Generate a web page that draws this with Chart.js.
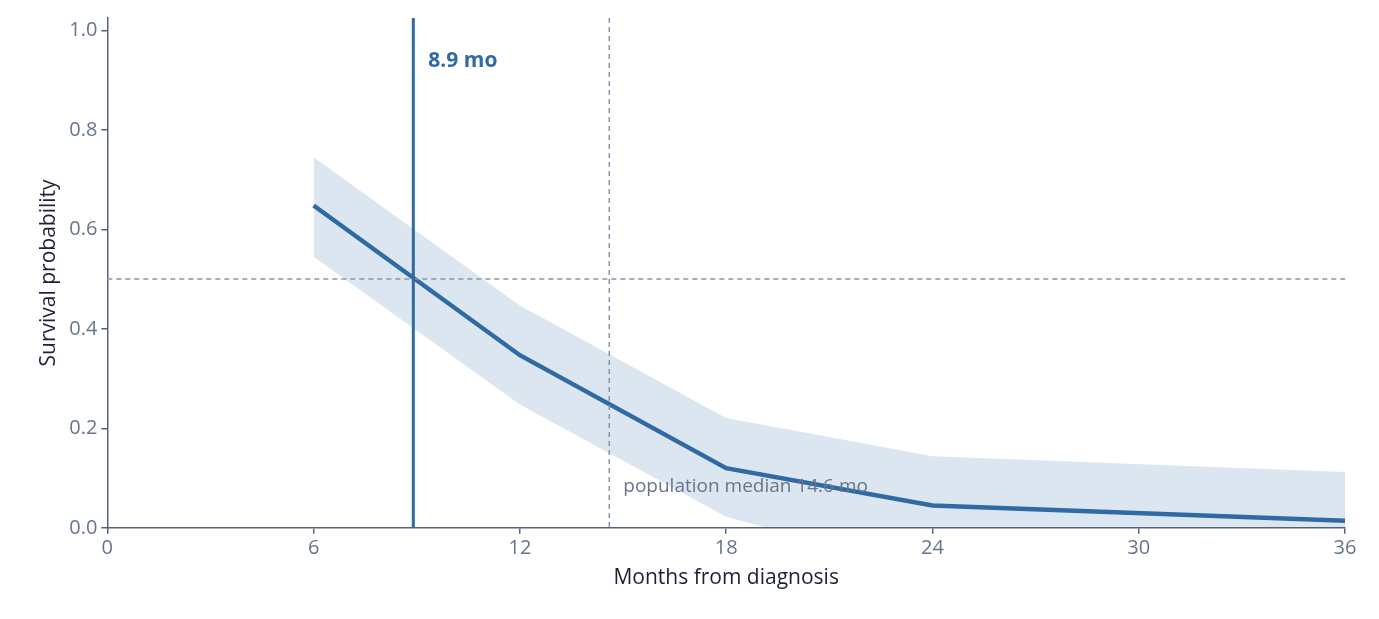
<!DOCTYPE html>
<html><head><meta charset="utf-8">
<script src="https://cdn.jsdelivr.net/npm/chart.js@4"></script>
<style>html,body{margin:0;background:#fff}#wrap{width:1379px;height:619px}</style>
</head><body><div id="wrap"><canvas id="c"></canvas></div>
<script>
const months = [6, 12, 18, 24, 36];
const survival = [0.648, 0.347, 0.12, 0.045, 0.014];
const upperCI = [0.745, 0.447, 0.221, 0.144, 0.112];
const lowerCI = [0.545, 0.248, 0.022, -0.09, -0.1];
const xTicks = [0, 6, 12, 18, 24, 30, 36];
const medianPatient = 8.9;
const medianPopulation = 14.6;

const pts = arr => months.map((m, i) => ({x: m, y: arr[i]}));

const refLines = {
  id: 'refLines',
  afterDatasetsDraw(chart) {
    const {ctx, chartArea: a, scales: {x, y}} = chart;
    ctx.save();
    ctx.setLineDash([5, 4]); ctx.lineWidth = 1.5; ctx.strokeStyle = '#8796ad';
    ctx.beginPath(); ctx.moveTo(a.left, y.getPixelForValue(0.5)); ctx.lineTo(a.right, y.getPixelForValue(0.5)); ctx.stroke();
    const px = x.getPixelForValue(medianPopulation);
    ctx.beginPath(); ctx.moveTo(px, a.top); ctx.lineTo(px, a.bottom); ctx.stroke();
    ctx.setLineDash([]); ctx.lineWidth = 3; ctx.strokeStyle = '#2f6aa5';
    const sx = x.getPixelForValue(medianPatient);
    ctx.beginPath(); ctx.moveTo(sx, a.top); ctx.lineTo(sx, a.bottom); ctx.stroke();
    ctx.fillStyle = '#2f6aa5'; ctx.font = 'bold 21px "Open Sans"'; ctx.textBaseline = 'middle';
    ctx.fillText(medianPatient + ' mo', sx + 15, 61);
    ctx.fillStyle = '#66758c'; ctx.font = '19px "Open Sans"';
    ctx.fillText('population median ' + medianPopulation + ' mo', px + 14, 487);
    ctx.restore();
  }
};

const tickGrid = { display: true, drawOnChartArea: false, drawTicks: true, tickLength: 6, color: '#56627a', lineWidth: 1.5 };

new Chart(document.getElementById('c'), {
  type: 'line',
  data: { datasets: [
    { data: pts(upperCI), borderWidth: 0, pointRadius: 0, fill: '+1', backgroundColor: 'rgba(47,106,165,0.17)' },
    { data: pts(lowerCI), borderWidth: 0, pointRadius: 0, fill: false },
    { data: pts(survival), borderColor: '#2f6aa5', borderWidth: 4.5, pointRadius: 0, fill: false }
  ]},
  options: {
    responsive: true, maintainAspectRatio: false, animation: false,
    layout: { padding: { top: 18, right: 34, left: 32, bottom: 24 } },
    plugins: { legend: { display: false }, tooltip: { enabled: false } },
    scales: {
      x: { type: 'linear', min: 0, max: 36,
        afterBuildTicks: s => { s.ticks = xTicks.map(v => ({value: v})); },
        grid: tickGrid, border: { color: '#56627a', width: 1.5 },
        ticks: { color: '#66758c', font: { size: 20, family: 'Open Sans' }, padding: 2 },
        title: { display: true, text: 'Months from diagnosis', color: '#1a2233', font: { size: 21, family: 'Open Sans' } } },
      y: { min: 0, max: 1.025,
        afterBuildTicks: s => { s.ticks = [0, 0.2, 0.4, 0.6, 0.8, 1.0].map(v => ({value: v})); },
        grid: tickGrid, border: { color: '#56627a', width: 1.5 },
        ticks: { color: '#66758c', font: { size: 20, family: 'Open Sans' }, padding: 4, callback: v => v.toFixed(1) },
        title: { display: true, text: 'Survival probability', color: '#1a2233', font: { size: 21, family: 'Open Sans' } } }
    }
  },
  plugins: [refLines]
});
</script></body></html>
